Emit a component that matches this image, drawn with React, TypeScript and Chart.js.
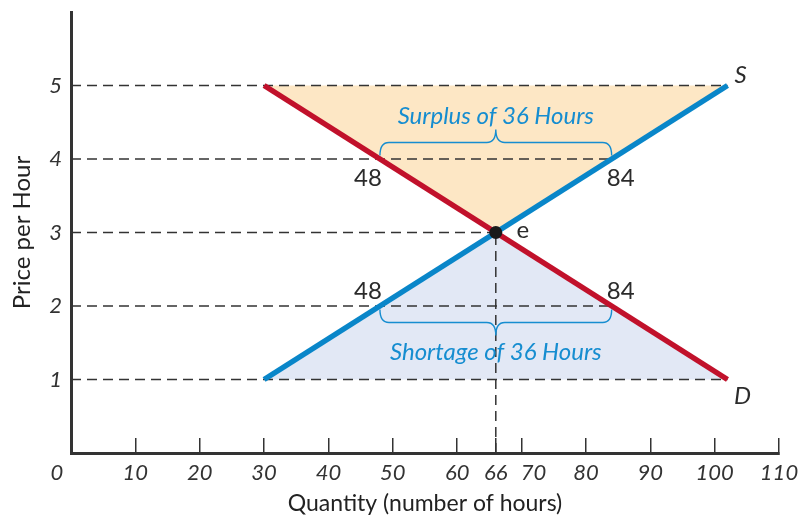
import React, { useEffect, useRef } from "react";
import { Chart, registerables } from "chart.js";

Chart.register(...registerables);

// ---- data ----
const xTickValues = [0, 10, 20, 30, 40, 50, 60, 66, 70, 80, 90, 100, 110];
const yTickValues = [1, 2, 3, 4, 5];

const supplyQ = [30, 102];
const supplyP = [1, 5];
const demandQ = [30, 102];
const demandP = [5, 1];

const eqQ = [66];
const eqP = [3];

const surplusQ = [30, 66, 102];
const surplusP = [5, 3, 5];
const shortageQ = [30, 66, 102];
const shortageP = [1, 3, 1];

const guideP = [5, 4, 3, 2, 1];
const guideQ = [102, 84, 66, 84, 102];

const qtyLabelQ = [48, 84, 48, 84];
const qtyLabelP = [4, 4, 2, 2];

const braceFromQ = [48, 48];
const braceToQ = [84, 84];
const braceP = [4, 2];
const braceText = ["Surplus of 36 Hours", "Shortage of 36 Hours"];

const curveNames = ["S", "D", "e"];
const curveNameQ = [102, 102, 66];
const curveNameP = [5, 1, 3];

// x tick labels that sit off their tick (drawn by the overlay)
const shiftedXLabels = [0, 70];

const FONT = "Lato, 'Open Sans', sans-serif";
const DARK = "#2b2b2b";
const RED = "#c1112b";
const BLUE = "#0986c9";
const TEXT_BLUE = "#168dd0";
const TICK_SIZE = 22;

const pts = (xs: number[], ys: number[]) => xs.map((x, i) => ({ x, y: ys[i] }));

const overlay = {
  id: "overlay",
  afterDatasetsDraw(chart: any) {
    const ctx = chart.ctx as CanvasRenderingContext2D;
    const xs = chart.scales.x;
    const ys = chart.scales.y;
    ctx.save();

    // braces + texts
    braceP.forEach((p, i) => {
      const x1 = xs.getPixelForValue(braceFromQ[i]);
      const x2 = xs.getPixelForValue(braceToQ[i]);
      const y0 = ys.getPixelForValue(p);
      const dir = p > eqP[0] ? -1 : 1;
      const yEnd = y0 + dir * 3.5;
      const yh = y0 + dir * 16.5;
      const yc = y0 + dir * 29.5;
      const xm = (x1 + x2) / 2;
      const r = 9;
      ctx.beginPath();
      ctx.moveTo(x1, yEnd);
      ctx.quadraticCurveTo(x1, yh, x1 + r, yh);
      ctx.lineTo(xm - r, yh);
      ctx.quadraticCurveTo(xm, yh, xm, yc);
      ctx.quadraticCurveTo(xm, yh, xm + r, yh);
      ctx.lineTo(x2 - r, yh);
      ctx.quadraticCurveTo(x2, yh, x2, yEnd);
      ctx.strokeStyle = TEXT_BLUE;
      ctx.lineWidth = 1.4;
      ctx.stroke();

      ctx.fillStyle = TEXT_BLUE;
      ctx.font = `italic 24px ${FONT}`;
      ctx.textAlign = "center";
      ctx.textBaseline = "alphabetic";
      const ty = dir < 0 ? y0 - 35 : y0 + 54;
      ctx.fillText(braceText[i], xm, ty);
    });

    // quantity labels
    ctx.fillStyle = DARK;
    ctx.font = `24px ${FONT}`;
    ctx.textAlign = "center";
    ctx.textBaseline = "alphabetic";
    qtyLabelQ.forEach((q, i) => {
      const p = qtyLabelP[i];
      const px = xs.getPixelForValue(q) + (q < eqQ[0] ? -12 : 9);
      const py = ys.getPixelForValue(p) + (p > eqP[0] ? 27 : -7);
      ctx.fillText(String(q), px, py);
    });

    // curve names
    const offs = [
      [13, -3],
      [15, 24],
      [27, 5],
    ];
    curveNames.forEach((n, i) => {
      ctx.font = n === "e" ? `24px ${FONT}` : `italic 24px ${FONT}`;
      const px = xs.getPixelForValue(curveNameQ[i]) + offs[i][0];
      const py = ys.getPixelForValue(curveNameP[i]) + offs[i][1];
      ctx.fillText(n, px, py);
    });

    // shifted x tick labels
    ctx.font = `italic ${TICK_SIZE}px ${FONT}`;
    ctx.fillStyle = "#333";
    ctx.textBaseline = "middle";
    const labelY = xs.top - 15 + 22 + TICK_SIZE * 0.6;
    shiftedXLabels.forEach((v) => {
      const dx = v === 0 ? -14 : 12;
      ctx.fillText(String(v), xs.getPixelForValue(v) + dx, labelY);
    });

    ctx.restore();
  },
};

export default function App() {
  const ref = useRef<HTMLCanvasElement>(null);

  useEffect(() => {
    if (!ref.current) return;
    const dash = (q: number, p: number) => ({
      data: [
        { x: 0, y: p },
        { x: q, y: p },
      ],
      borderColor: "#333",
      borderWidth: 1.5,
      borderDash: [10, 6],
      pointRadius: 0,
      fill: false,
      order: 5,
    });
    const datasets: any[] = [
      {
        data: pts(surplusQ, surplusP),
        borderWidth: 0,
        pointRadius: 0,
        backgroundColor: "#fde7c5",
        fill: { value: surplusP[0] },
        order: 10,
      },
      {
        data: pts(shortageQ, shortageP),
        borderWidth: 0,
        pointRadius: 0,
        backgroundColor: "#e2e8f5",
        fill: { value: shortageP[0] },
        order: 10,
      },
      ...guideP.map((p, i) => dash(guideQ[i], p)),
      {
        data: [
          { x: eqQ[0], y: 0 },
          { x: eqQ[0], y: eqP[0] },
        ],
        borderColor: "#333",
        borderWidth: 1.5,
        borderDash: [10, 6],
        pointRadius: 0,
        fill: false,
        order: 5,
      },
      {
        data: pts(demandQ, demandP),
        borderColor: RED,
        borderWidth: 5.5,
        pointRadius: 0,
        fill: false,
        order: 2,
      },
      {
        data: pts(supplyQ, supplyP),
        borderColor: BLUE,
        borderWidth: 5.5,
        pointRadius: 0,
        fill: false,
        order: 1,
      },
      {
        data: pts(eqQ, eqP),
        showLine: false,
        pointRadius: 6.5,
        pointBackgroundColor: "#1a1a1a",
        pointBorderWidth: 0,
        order: 0,
      },
    ];

    const chart = new Chart(ref.current, {
      type: "line",
      data: { datasets },
      plugins: [overlay],
      options: {
        animation: false,
        responsive: false,
        events: [],
        layout: { padding: { top: 12, right: 19, left: 0, bottom: 0 } },
        plugins: {
          legend: { display: false },
          tooltip: { enabled: false },
        },
        scales: {
          x: {
            type: "linear",
            min: 0,
            max: 110,
            afterBuildTicks: (s: any) => {
              s.ticks = xTickValues.map((v) => ({ value: v }));
            },
            afterFit: (s: any) => {
              s.height = 65;
              s.paddingLeft = 0;
              s.paddingRight = 0;
            },
            grid: {
              display: true,
              drawOnChartArea: false,
              drawTicks: true,
              tickLength: -15,
              color: "#333",
              lineWidth: 1.5,
            },
            border: { display: true, color: "#333", width: 3 },
            ticks: {
              autoSkip: false,
              maxRotation: 0,
              padding: 22,
              color: "#333",
              font: { family: FONT, size: TICK_SIZE, style: "italic" },
              callback: (v: any) => (shiftedXLabels.includes(v) ? "" : String(v)),
            },
            title: {
              display: true,
              text: "Quantity (number of hours)",
              color: "#222",
              font: { family: FONT, size: 23 },
              padding: { top: 0, bottom: 1 },
            },
          },
          y: {
            type: "linear",
            min: 0,
            max: 6,
            afterBuildTicks: (s: any) => {
              s.ticks = yTickValues.map((v) => ({ value: v }));
            },
            afterFit: (s: any) => {
              s.width = 71;
              s.paddingTop = 0;
              s.paddingBottom = 0;
            },
            grid: {
              display: true,
              drawOnChartArea: false,
              drawTicks: false,
            },
            border: { display: true, color: "#333", width: 3 },
            ticks: {
              padding: 9,
              color: "#333",
              font: { family: FONT, size: TICK_SIZE, style: "italic" },
            },
            title: {
              display: true,
              text: "Price per Hour",
              color: "#222",
              font: { family: FONT, size: 24 },
              padding: { top: 8, bottom: 0 },
            },
          },
        },
      } as any,
    });
    return () => chart.destroy();
  }, []);

  return (
    <div style={{ position: "absolute", left: 0, top: 0, width: 798, height: 518, background: "#fff" }}>
      <canvas ref={ref} width={798} height={518} style={{ display: "block" }} />
    </div>
  );
}
